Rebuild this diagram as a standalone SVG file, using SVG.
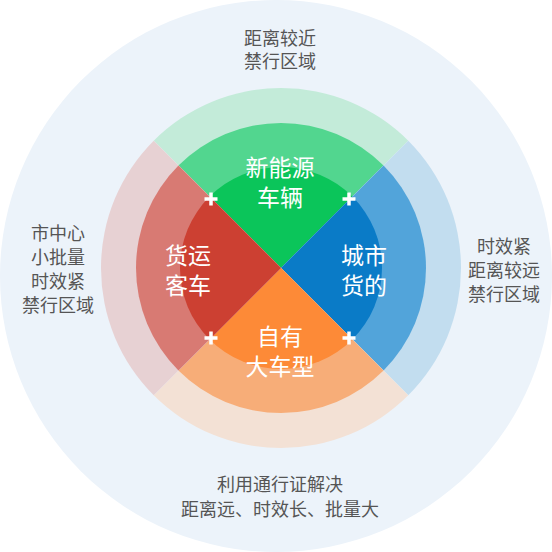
<svg xmlns="http://www.w3.org/2000/svg" width="552" height="552" viewBox="0 0 552 552">
  <style>
    .lbl{font-family:"Noto Sans CJK SC","Noto Sans",sans-serif;font-size:18px;fill:#555555;text-anchor:middle}
    .in{font-family:"Noto Sans CJK SC","Noto Sans",sans-serif;font-size:23px;fill:#ffffff;text-anchor:middle}
    .plus{stroke:#ffffff;stroke-width:3.5;fill:none}
  </style>
  <circle cx="276" cy="276" r="276" fill="#ECF3FA"/>
  <g id="green">
    <path d="M281,268 L153.72,140.72 A180,180 0 0 1 408.28,140.72 Z" fill="#C3EBD9"/>
    <path d="M281,268 L178.47,165.47 A145,145 0 0 1 383.53,165.47 Z" fill="#52D68F"/>
    <path d="M281,268 L209.58,196.58 A101,101 0 0 1 352.42,196.58 Z" fill="#0BC55A"/>
    <text class="in" x="280" y="176">新能源</text>
    <text class="in" x="280" y="206">车辆</text>
  </g>
  <g id="blue">
    <path d="M281,268 L408.28,140.72 A180,180 0 0 1 408.28,395.28 Z" fill="#C2DDEF"/>
    <path d="M281,268 L383.53,165.47 A145,145 0 0 1 383.53,370.53 Z" fill="#52A4DA"/>
    <path d="M281,268 L352.42,196.58 A101,101 0 0 1 352.42,339.42 Z" fill="#0A7BC7"/>
    <text class="in" x="364" y="264">城市</text>
    <text class="in" x="364" y="294">货的</text>
  </g>
  <g id="orange">
    <path d="M281,268 L408.28,395.28 A180,180 0 0 1 153.72,395.28 Z" fill="#F3E1D5"/>
    <path d="M281,268 L383.53,370.53 A145,145 0 0 1 178.47,370.53 Z" fill="#F7AD78"/>
    <path d="M281,268 L352.42,339.42 A101,101 0 0 1 209.58,339.42 Z" fill="#FD8A37"/>
    <text class="in" x="280" y="345">自有</text>
    <text class="in" x="280" y="375">大车型</text>
  </g>
  <g id="red">
    <path d="M281,268 L153.72,395.28 A180,180 0 0 1 153.72,140.72 Z" fill="#E7D1D3"/>
    <path d="M281,268 L178.47,370.53 A145,145 0 0 1 178.47,165.47 Z" fill="#D87A73"/>
    <path d="M281,268 L209.58,339.42 A101,101 0 0 1 209.58,196.58 Z" fill="#CC4032"/>
    <text class="in" x="188" y="264">货运</text>
    <text class="in" x="188" y="294">客车</text>
  </g>
  <g id="plus-marks">
    <path class="plus" d="M204.5,199 h13 M211,192.5 v13"/>
    <path class="plus" d="M342.5,199 h13 M349,192.5 v13"/>
    <path class="plus" d="M204.5,338 h13 M211,331.5 v13"/>
    <path class="plus" d="M342.5,338 h13 M349,331.5 v13"/>
  </g>
  <g id="label-top">
    <text class="lbl" x="280" y="45">距离较近</text>
    <text class="lbl" x="280" y="68">禁行区域</text>
  </g>
  <g id="label-left">
    <text class="lbl" x="58" y="240">市中心</text>
    <text class="lbl" x="58" y="264">小批量</text>
    <text class="lbl" x="58" y="288">时效紧</text>
    <text class="lbl" x="58" y="312">禁行区域</text>
  </g>
  <g id="label-right">
    <text class="lbl" x="504" y="253">时效紧</text>
    <text class="lbl" x="504" y="277">距离较远</text>
    <text class="lbl" x="504" y="301">禁行区域</text>
  </g>
  <g id="label-bottom">
    <text class="lbl" x="280" y="491">利用通行证解决</text>
    <text class="lbl" x="280" y="516">距离远、时效长、批量大</text>
  </g>
</svg>
